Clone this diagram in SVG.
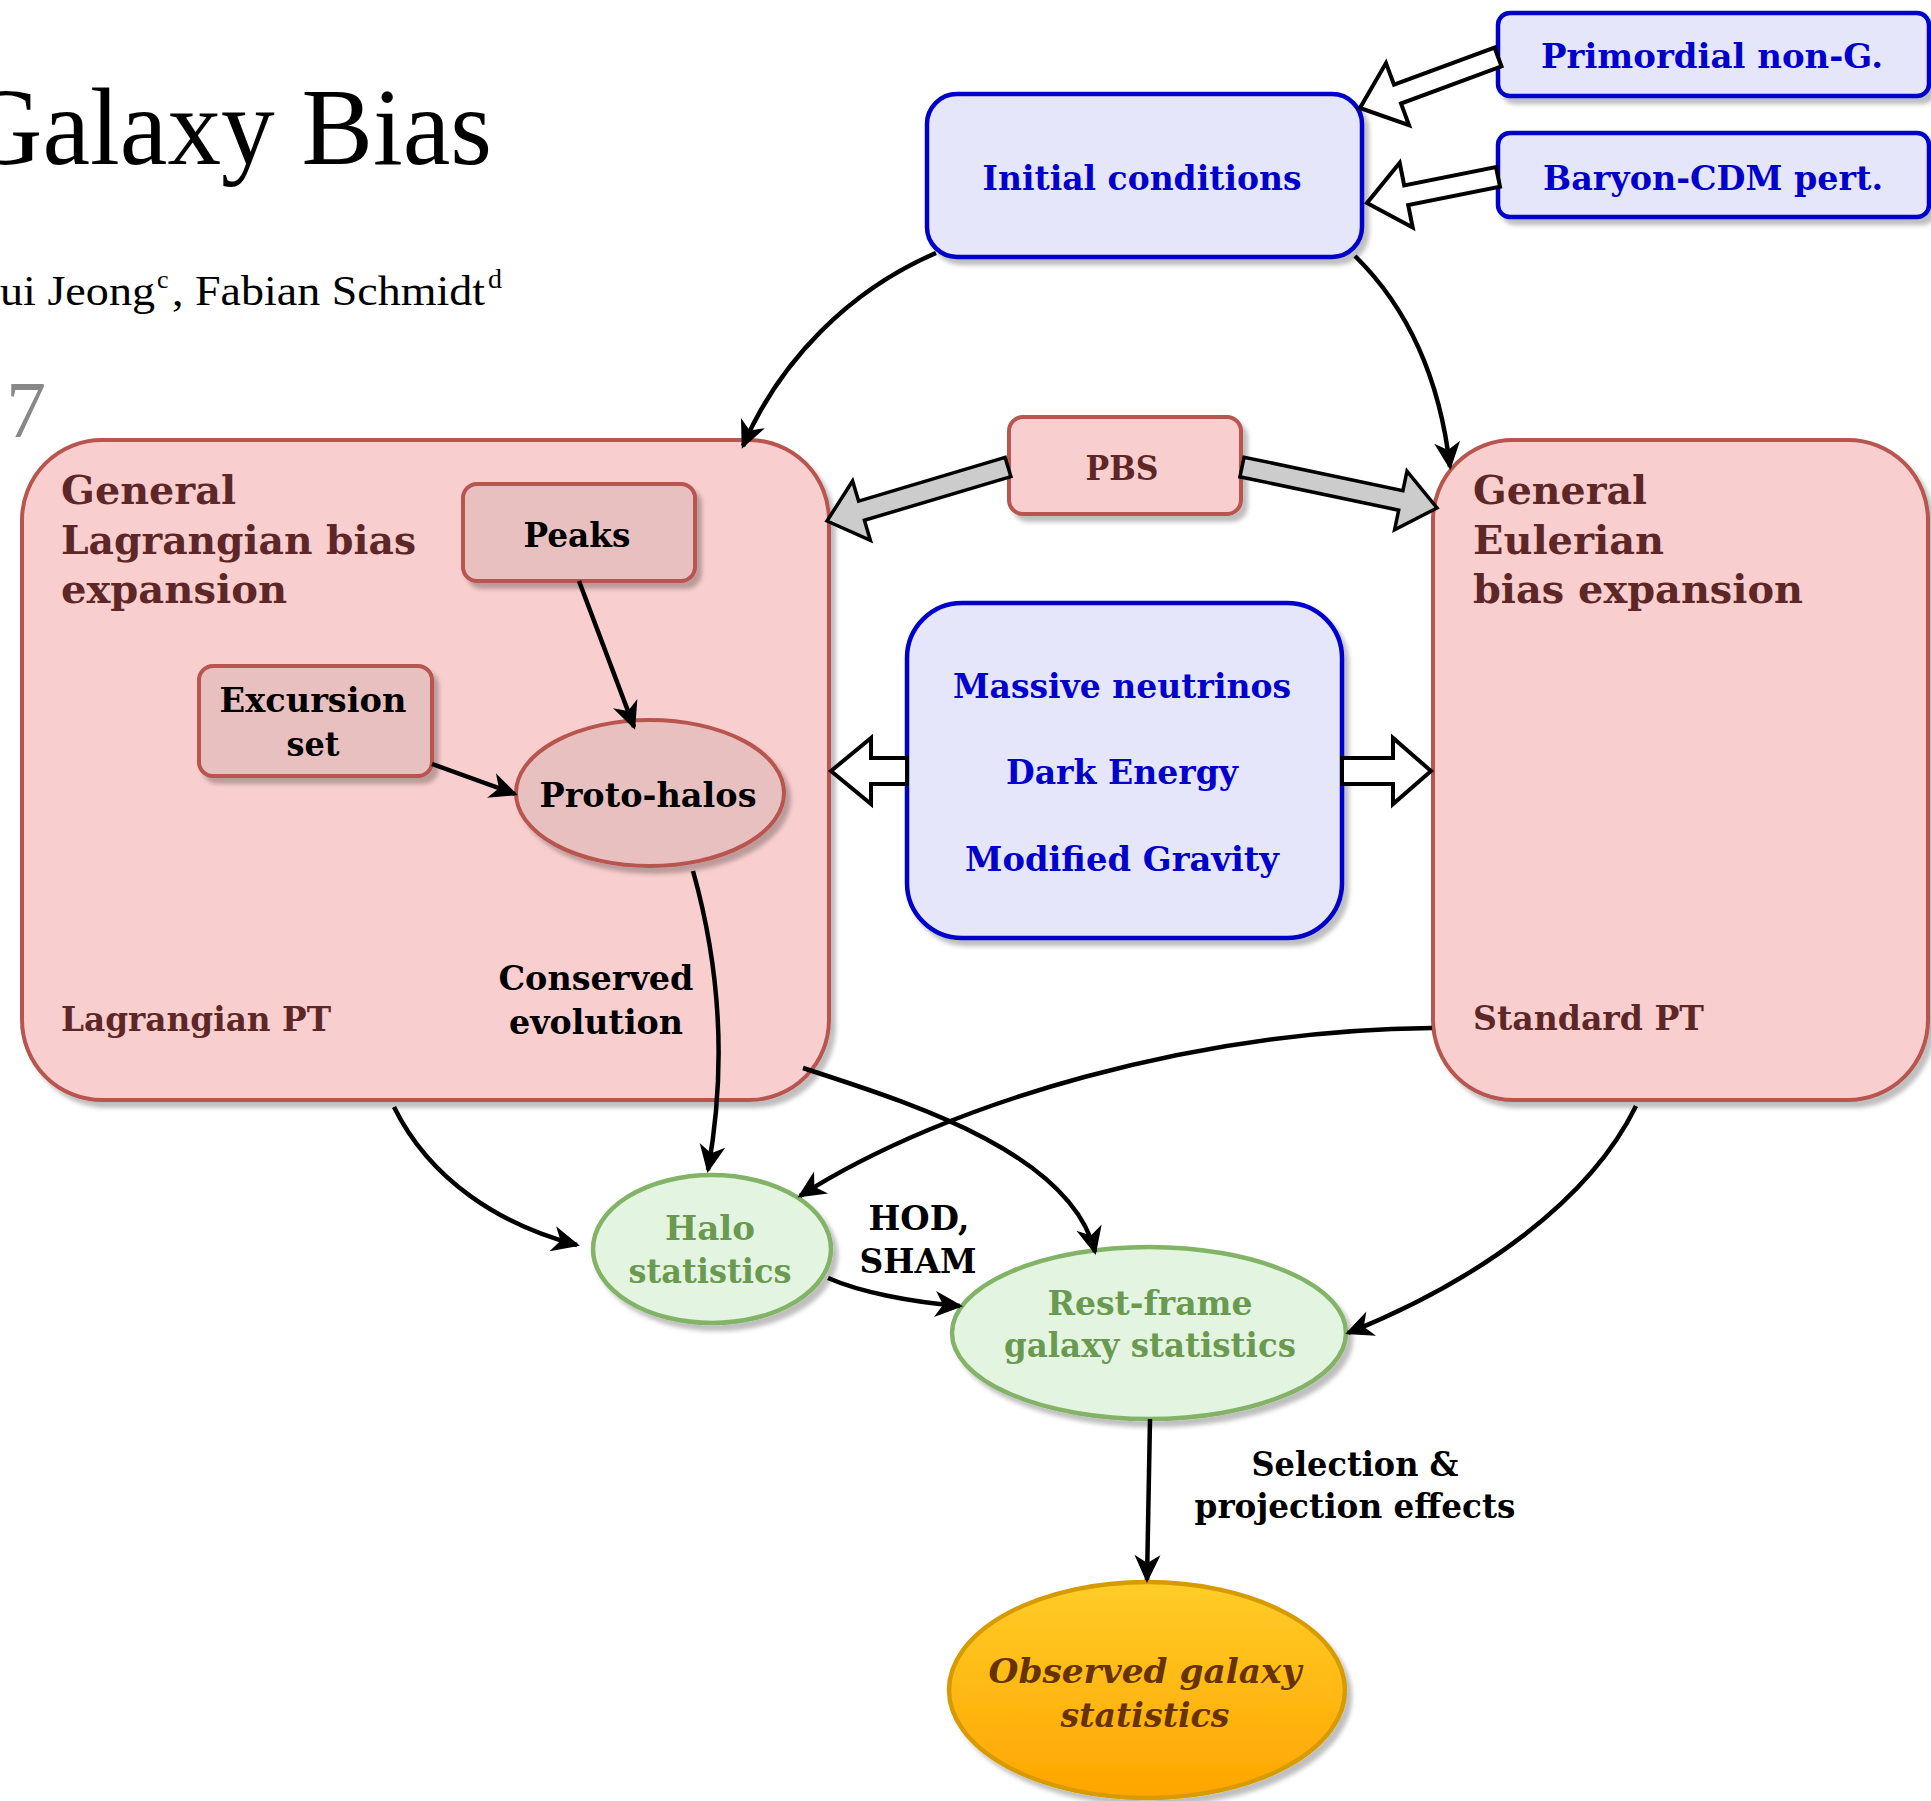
<svg xmlns="http://www.w3.org/2000/svg" width="1931" height="1801" viewBox="0 0 1931 1801">
<style>
.lbl{font-family:"DejaVu Serif","Liberation Serif",serif;font-weight:bold;text-anchor:middle}
.lft{font-family:"DejaVu Serif","Liberation Serif",serif;font-weight:bold}
.blue{fill:#0000CC}
.mar{fill:#5E2727}
.blk{fill:#000}
.grn{fill:#6A9A50}
.paper{font-family:"Liberation Serif",serif;fill:#000}
.bluebox{fill:#E6E6FA;stroke:#0000CC;stroke-width:4.5}
.redbox{fill:#F9CECE;stroke:#B85450;stroke-width:4}
.redin{fill:#E8C0C0;stroke:#B85450;stroke-width:4}
.grnell{fill:#E3F5E0;stroke:#82B366;stroke-width:4.5}
.conn{fill:none;stroke:#000;stroke-width:4.5;marker-end:url(#ah)}
.hollow{fill:#fff;stroke:#000;stroke-width:4;stroke-linejoin:miter}
.gray{fill:#CCCCCC;stroke:#000;stroke-width:3.5;stroke-linejoin:miter}
</style>
<defs>
<filter id="sh" x="-10%" y="-10%" width="125%" height="130%">
<feDropShadow dx="5" dy="6" stdDeviation="2" flood-color="#000" flood-opacity="0.25"/>
</filter>
<linearGradient id="og" x1="0" y1="0" x2="0" y2="1">
<stop offset="0" stop-color="#FFCD28"/>
<stop offset="1" stop-color="#FFA500"/>
</linearGradient>
<marker id="ah" markerWidth="34" markerHeight="34" refX="0" refY="0" orient="auto" markerUnits="userSpaceOnUse" overflow="visible">
<path d="M3,0 L-25,-13 L-17,0 L-25,13 Z" fill="#000"/>
</marker>
</defs>
<rect width="1931" height="1801" fill="#fff"/>

<g id="paper-text">
<text class="paper" x="-35" y="164" font-size="110" textLength="527" lengthAdjust="spacingAndGlyphs">Galaxy Bias</text>
<text class="paper" x="0" y="305" font-size="42" textLength="155" lengthAdjust="spacingAndGlyphs">ui Jeong</text>
<text class="paper" x="157" y="288" font-size="26">c</text>
<text class="paper" x="172" y="305" font-size="42" textLength="313" lengthAdjust="spacingAndGlyphs">, Fabian Schmidt</text>
<text class="paper" x="488" y="288" font-size="28">d</text>
<text class="paper" x="6" y="437" font-size="80" style="fill:#888">7</text>
</g>

<g id="lagrangian">
<rect class="redbox" x="22" y="440" width="807" height="660" rx="80" filter="url(#sh)"/>
<text class="lft mar" x="61" y="504" font-size="40" textLength="175" lengthAdjust="spacingAndGlyphs">General</text>
<text class="lft mar" x="61" y="554" font-size="40" textLength="355" lengthAdjust="spacingAndGlyphs">Lagrangian bias</text>
<text class="lft mar" x="61" y="603" font-size="40" textLength="226" lengthAdjust="spacingAndGlyphs">expansion</text>
<text class="lft mar" x="61" y="1031" font-size="33" textLength="270" lengthAdjust="spacingAndGlyphs">Lagrangian PT</text>
</g>

<g id="eulerian">
<rect class="redbox" x="1433" y="440" width="495" height="660" rx="80" filter="url(#sh)"/>
<text class="lft mar" x="1473" y="504" font-size="40" textLength="174" lengthAdjust="spacingAndGlyphs">General</text>
<text class="lft mar" x="1473" y="554" font-size="40" textLength="191" lengthAdjust="spacingAndGlyphs">Eulerian</text>
<text class="lft mar" x="1473" y="603" font-size="40" textLength="330" lengthAdjust="spacingAndGlyphs">bias expansion</text>
<text class="lft mar" x="1473" y="1030" font-size="33" textLength="231" lengthAdjust="spacingAndGlyphs">Standard PT</text>
</g>

<g id="initial-conditions">
<rect class="bluebox" x="927" y="94" width="435" height="163" rx="30" filter="url(#sh)"/>
<text class="lbl blue" x="1142" y="190" font-size="34" textLength="319" lengthAdjust="spacingAndGlyphs">Initial conditions</text>
</g>

<g id="primordial">
<rect class="bluebox" x="1498" y="13" width="431" height="83" rx="12" filter="url(#sh)"/>
<text class="lbl blue" x="1712" y="68" font-size="34" textLength="342" lengthAdjust="spacingAndGlyphs">Primordial non-G.</text>
</g>

<g id="baryon">
<rect class="bluebox" x="1498" y="133" width="431" height="84" rx="12" filter="url(#sh)"/>
<text class="lbl blue" x="1713" y="190" font-size="34" textLength="340" lengthAdjust="spacingAndGlyphs">Baryon-CDM pert.</text>
</g>

<g id="pbs">
<rect class="redbox" x="1009" y="417" width="232" height="97" rx="14" filter="url(#sh)"/>
<text class="lbl mar" x="1122" y="480" font-size="34" textLength="73" lengthAdjust="spacingAndGlyphs">PBS</text>
</g>

<g id="peaks">
<rect class="redin" x="463" y="484" width="232" height="97" rx="14" filter="url(#sh)"/>
<text class="lbl blk" x="577" y="547" font-size="34" textLength="107" lengthAdjust="spacingAndGlyphs">Peaks</text>
</g>

<g id="excursion">
<rect class="redin" x="199" y="666" width="233" height="110" rx="14" filter="url(#sh)"/>
<text class="lbl blk" x="313" y="712" font-size="34" textLength="187" lengthAdjust="spacingAndGlyphs">Excursion</text>
<text class="lbl blk" x="313" y="756" font-size="34" textLength="53" lengthAdjust="spacingAndGlyphs">set</text>
</g>

<g id="proto-halos">
<ellipse class="redin" cx="650" cy="793" rx="134" ry="73" filter="url(#sh)"/>
<text class="lbl blk" x="648" y="807" font-size="34" textLength="217" lengthAdjust="spacingAndGlyphs">Proto-halos</text>
</g>

<g id="massive">
<rect class="bluebox" x="907" y="603" width="435" height="335" rx="55" filter="url(#sh)"/>
<text class="lbl blue" x="1122" y="698" font-size="34" textLength="338" lengthAdjust="spacingAndGlyphs">Massive neutrinos</text>
<text class="lbl blue" x="1122" y="784" font-size="34" textLength="232" lengthAdjust="spacingAndGlyphs">Dark Energy</text>
<text class="lbl blue" x="1122" y="871" font-size="34" textLength="314" lengthAdjust="spacingAndGlyphs">Modified Gravity</text>
</g>

<g id="halo">
<ellipse class="grnell" cx="712" cy="1249" rx="119" ry="74" filter="url(#sh)"/>
<text class="lbl grn" x="710" y="1240" font-size="34" textLength="90" lengthAdjust="spacingAndGlyphs">Halo</text>
<text class="lbl grn" x="710" y="1283" font-size="34" textLength="163" lengthAdjust="spacingAndGlyphs">statistics</text>
</g>

<g id="restframe">
<ellipse class="grnell" cx="1149" cy="1333" rx="197" ry="86" filter="url(#sh)"/>
<text class="lbl grn" x="1150" y="1315" font-size="34" textLength="205" lengthAdjust="spacingAndGlyphs">Rest-frame</text>
<text class="lbl grn" x="1150" y="1357" font-size="34" textLength="292" lengthAdjust="spacingAndGlyphs">galaxy statistics</text>
</g>

<g id="observed">
<ellipse cx="1147" cy="1690" rx="198" ry="108" fill="url(#og)" stroke="#D79B00" stroke-width="4.5" filter="url(#sh)"/>
<text class="lbl" x="1145" y="1683" font-size="34" font-style="italic" fill="#663300" textLength="313" lengthAdjust="spacingAndGlyphs">Observed galaxy</text>
<text class="lbl" x="1145" y="1727" font-size="34" font-style="italic" fill="#663300" textLength="169" lengthAdjust="spacingAndGlyphs">statistics</text>
</g>

<g id="connectors">
<polygon class="hollow" points="1360,108 1409,125.1 1401,103.5 1501.5,66.4 1494.5,47.6 1394,84.7 1386,63.1"/>
<polygon class="hollow" points="1367,203 1412.7,227.6 1408.2,205 1500,186.6 1496,167 1404.2,185.4 1399.7,162.8"/>
<polygon class="gray" points="827,521 870.4,540.4 864.4,520.3 1010.9,476.6 1005.1,457.4 858.6,501.1 852.6,481"/>
<polygon class="gray" points="1437,508 1394.6,529.7 1398.7,510.2 1239.9,476.8 1244.1,457.2 1402.9,490.6 1407,471.1"/>
<polygon class="hollow" points="831,771 871,738 871,758 907,758 907,784 871,784 871,804"/>
<polygon class="hollow" points="1431,771 1393,738 1393,758 1342,758 1342,784 1393,784 1393,804"/>
<path class="conn" d="M936,253 C850,290 780,360 743,446"/>
<path class="conn" d="M1355,256 C1410,310 1440,380 1450,467"/>
<path class="conn" d="M579,581 L634,727"/>
<path class="conn" d="M432,764 L515,794"/>
<path class="conn" d="M693,871 C718,960 728,1060 708,1170"/>
<path class="conn" d="M394,1107 C430,1180 500,1225 577,1245"/>
<path class="conn" d="M803,1068 C900,1100 1070,1150 1095,1252"/>
<path class="conn" d="M1432,1028 C1200,1030 950,1100 800,1196"/>
<path class="conn" d="M1636,1106 C1590,1200 1480,1280 1348,1333"/>
<path class="conn" d="M828,1278 C860,1292 910,1302 960,1306" stroke-width="5.5"/>
<path class="conn" d="M1150,1419 L1147,1580"/>
<text class="lbl blk" x="596" y="990" font-size="34" textLength="195" lengthAdjust="spacingAndGlyphs">Conserved</text>
<text class="lbl blk" x="596" y="1034" font-size="34" textLength="174" lengthAdjust="spacingAndGlyphs">evolution</text>
<text class="lbl blk" x="919" y="1230" font-size="34" textLength="101" lengthAdjust="spacingAndGlyphs">HOD,</text>
<text class="lbl blk" x="918" y="1273" font-size="34" textLength="117" lengthAdjust="spacingAndGlyphs">SHAM</text>
<text class="lbl blk" x="1355" y="1476" font-size="34" textLength="207" lengthAdjust="spacingAndGlyphs">Selection &amp;</text>
<text class="lbl blk" x="1355" y="1518" font-size="34" textLength="321" lengthAdjust="spacingAndGlyphs">projection effects</text>
</g>
</svg>
